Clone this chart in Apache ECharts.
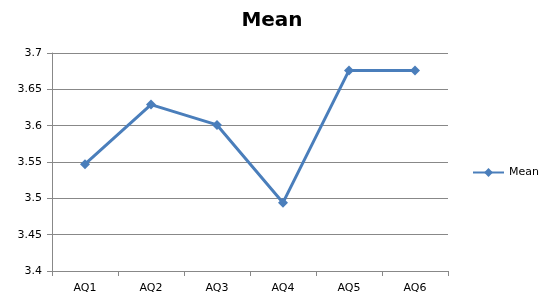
<!DOCTYPE html>
<html>
<head>
<meta charset="utf-8">
<script src="https://cdn.jsdelivr.net/npm/echarts@6/dist/echarts.min.js"></script>
<style>
  html, body { margin: 0; padding: 0; background: #fff; }
  #chart { width: 545px; height: 300px; }
</style>
</head>
<body>
<div id="chart"></div>
<script>
// data
const categories = ['AQ1', 'AQ2', 'AQ3', 'AQ4', 'AQ5', 'AQ6'];
const meanValues = [3.547, 3.629, 3.601, 3.494, 3.676, 3.676];

const chart = echarts.init(document.getElementById('chart'));
const font = 'DejaVu Sans, Verdana, sans-serif';

chart.setOption({
  backgroundColor: '#fff',
  animation: false,
  title: {
    text: 'Mean',
    left: 267, top: 6, textAlign: 'center',
    textStyle: { fontFamily: font, fontSize: 20, fontWeight: 'bold', color: '#000' }
  },
  legend: {
    data: ['Mean'],
    orient: 'vertical',
    left: 472, top: 167, padding: 0,
    itemWidth: 31, itemHeight: 11,
    textStyle: { fontFamily: font, fontSize: 11, color: '#000' }
  },
  grid: { left: 52, right: 97, top: 53, bottom: 29 },
  xAxis: {
    type: 'category',
    data: categories,
    boundaryGap: true,
    axisLine: { lineStyle: { color: '#888' } },
    axisTick: { show: true, length: 5, lineStyle: { color: '#888' } },
    axisLabel: { fontFamily: font, fontSize: 11, color: '#000', margin: 12 }
  },
  yAxis: {
    type: 'value',
    min: 3.4, max: 3.7, interval: 0.05,
    axisLine: { show: true, lineStyle: { color: '#888' } },
    axisTick: { show: true, inside: false, length: 5, lineStyle: { color: '#888' } },
    axisLabel: {
      fontFamily: font, fontSize: 11, color: '#000', margin: 10,
      formatter: v => +v.toFixed(2) + ''
    },
    splitLine: { lineStyle: { color: '#888', width: 1 } }
  },
  series: [{
    name: 'Mean',
    type: 'line',
    data: meanValues,
    symbol: 'diamond',
    symbolSize: 10,
    lineStyle: { color: '#4a7ebb', width: 3 },
    itemStyle: { color: '#4a7ebb' }
  }]
});
</script>
</body>
</html>
